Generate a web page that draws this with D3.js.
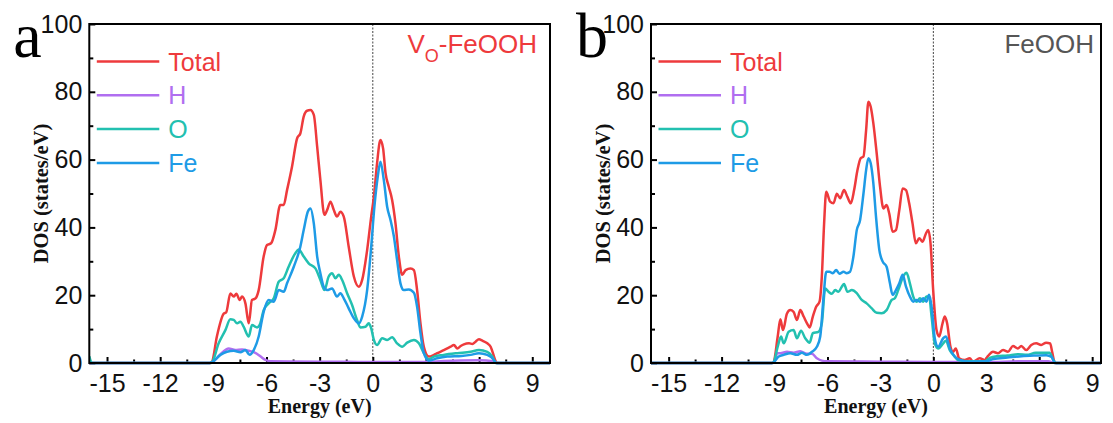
<!DOCTYPE html>
<html>
<head>
<meta charset="utf-8">
<script src="https://cdn.jsdelivr.net/npm/d3@7"></script>
<style>
  html, body { margin: 0; padding: 0; background: #fff; }
  svg { display: block; }
</style>
</head>
<body>
<svg id="chart" width="1113" height="423"></svg>
<script>
// Tick values
const energyTicks = [-15, -12, -9, -6, -3, 0, 3, 6, 9];
const energyMinor = [-13.5, -10.5, -7.5, -4.5, -1.5, 1.5, 4.5, 7.5];
const dosTicks = [0, 20, 40, 60, 80, 100];
const dosMinor = [10, 30, 50, 70, 90];

const seriesNames = ["Total", "H", "O", "Fe"];

// Panel a: V_O-FeOOH, [energy (eV), DOS (states/eV)]
const totalA = [[-16,0],[-9.2,0],[-9.08,0.3],[-8.8,7.8],[-8.42,14.5],[-8.27,15],[-8.04,20.5],[-7.85,19.6],[-7.7,20.4],[-7.51,18.6],[-7.38,19.6],[-7.19,17.6],[-7.0,11.7],[-6.82,18.6],[-6.63,19],[-6.44,21.5],[-6.16,31.4],[-5.97,34.8],[-5.74,35.3],[-5.5,39.2],[-5.22,46.6],[-5.03,46.6],[-4.84,51],[-4.56,57.9],[-4.27,66.3],[-4.09,67.7],[-3.9,72.7],[-3.71,74.4],[-3.52,74.6],[-3.33,73.2],[-3.14,63.8],[-2.96,54],[-2.73,43.7],[-2.58,45.1],[-2.39,47.6],[-2.2,45.1],[-2.02,43.2],[-1.83,44.6],[-1.64,43.2],[-1.36,34.3],[-1.07,25.5],[-0.79,22.5],[-0.6,24.5],[-0.32,33.3],[-0.09,43.2],[0.06,49],[0.24,58.9],[0.43,65.8],[0.58,63.3],[0.72,56],[0.9,52],[1.09,48.1],[1.28,41.2],[1.47,31.4],[1.66,26],[1.85,27.4],[2.13,27.9],[2.32,27.4],[2.5,21.5],[2.69,11.7],[2.88,4.8],[3.16,1.9],[3.45,2.4],[3.64,2.9],[4.01,3.8],[4.39,4.8],[4.58,5.3],[4.77,4.3],[4.96,5],[5.14,5.5],[5.43,5.8],[5.62,5.6],[5.8,6.3],[5.99,7],[6.18,6.6],[6.46,5.8],[6.65,4.8],[6.84,1.9],[6.93,0.6],[7.03,0],[10,0]];
const hA = [[-16,0],[-9.2,0],[-9.08,0.2],[-8.51,3],[-8.14,4.3],[-7.76,3.8],[-7.38,4.0],[-7.0,3.6],[-6.63,3],[-6.35,2],[-6.06,0.9],[-5.78,0.5],[-3,0.4],[0,0.3],[3,0.3],[4,0.6],[6,0.8],[6.8,0.5],[7.0,0],[10,0]];
const oA = [[-16,2],[-15.85,0],[-9.2,0],[-9.08,0.2],[-8.7,5.8],[-8.32,9.7],[-8.04,12.9],[-7.85,12.7],[-7.66,11.7],[-7.47,12.2],[-7.29,10.7],[-7.0,7.8],[-6.82,11.2],[-6.53,10.5],[-6.35,11.7],[-6.16,15.6],[-5.88,17.6],[-5.59,19.1],[-5.31,24],[-5.03,25],[-4.75,28.4],[-4.37,32.4],[-4.18,33.5],[-3.9,31.4],[-3.62,29.4],[-3.24,27.9],[-2.96,24.5],[-2.73,21.5],[-2.49,25.5],[-2.3,26.5],[-2.11,25],[-1.92,26],[-1.73,24.5],[-1.45,20.6],[-1.17,17.1],[-0.89,12.7],[-0.7,10.5],[-0.41,10.7],[-0.23,11.7],[-0.09,10.2],[0.06,6.8],[0.24,5.3],[0.53,7.3],[0.81,6.8],[1.09,7.6],[1.37,5.8],[1.66,4.8],[1.94,6.0],[2.32,6.8],[2.6,5.8],[2.88,2.9],[3.16,1.1],[3.45,1.9],[4.0,2.4],[4.77,2.9],[5.52,3.3],[5.99,3.8],[6.46,3.3],[6.74,1.9],[6.95,0],[10,0]];
const feA = [[-16,0],[-9.2,0],[-9.08,0.2],[-8.6,2.4],[-8.23,3.3],[-7.85,3.6],[-7.47,3.2],[-7.19,3.8],[-6.95,2.4],[-6.72,3.8],[-6.44,7.8],[-6.16,15.1],[-5.88,18.6],[-5.59,18.1],[-5.31,21.5],[-5.03,21],[-4.84,23.5],[-4.46,28.4],[-4.09,34.3],[-3.9,39.2],[-3.67,44.6],[-3.52,45.6],[-3.33,41.2],[-3.14,31.4],[-2.96,26.5],[-2.77,22.5],[-2.58,21.5],[-2.3,22],[-2.02,19.6],[-1.83,20.6],[-1.64,19.1],[-1.36,16.1],[-1.07,13.2],[-0.79,11.7],[-0.6,13.7],[-0.32,21.5],[-0.09,34.3],[0.09,46.1],[0.28,55],[0.43,59.4],[0.62,54],[0.81,46.1],[1.0,42.2],[1.19,37.3],[1.37,30.4],[1.56,23.5],[1.75,21.5],[2.03,21.7],[2.32,20.7],[2.5,16.6],[2.69,8.8],[2.88,2.9],[3.16,0.7],[3.63,1.4],[4.2,1.9],[5.0,2.1],[5.52,2.4],[5.99,2.9],[6.46,2.4],[6.84,0.9],[6.95,0],[10,0]];

// Panel b: FeOOH
const totalB = [[-16,0],[-9.15,0],[-9.05,0.3],[-8.82,7.8],[-8.67,12.9],[-8.52,9.7],[-8.3,14.5],[-8.11,15.6],[-7.92,15.1],[-7.73,12.7],[-7.54,15.6],[-7.35,13.7],[-7.16,11.7],[-7.01,10.5],[-6.83,13.7],[-6.64,16.6],[-6.45,18.1],[-6.32,25.5],[-6.19,41.2],[-6.07,50.5],[-5.85,47.6],[-5.66,47.1],[-5.47,49.9],[-5.28,48.6],[-5.06,51],[-4.87,49],[-4.68,47.1],[-4.49,51],[-4.3,56.9],[-4.12,60.4],[-3.96,60.9],[-3.81,68.7],[-3.68,77.1],[-3.55,75.6],[-3.4,70.7],[-3.21,61.8],[-3.02,52],[-2.83,45.6],[-2.65,46.6],[-2.5,44.1],[-2.31,38.7],[-2.12,39.2],[-1.93,45.1],[-1.74,51.5],[-1.55,51],[-1.37,47.1],[-1.18,41.2],[-0.99,35.3],[-0.8,36.8],[-0.61,35.8],[-0.42,38.2],[-0.29,39.2],[-0.16,35.3],[-0.01,21.5],[0.18,9.7],[0.33,7.8],[0.52,11.7],[0.65,13.7],[0.78,11.7],[0.97,4.8],[1.12,3.3],[1.27,4.3],[1.46,1.4],[1.78,0.9],[2.06,1.4],[2.25,0.4],[2.63,1.4],[2.91,0.9],[3.1,2.1],[3.38,3.3],[3.66,2.9],[3.95,3.8],[4.23,3.3],[4.51,5],[4.79,4.3],[4.98,5],[5.26,3.8],[5.55,5.3],[5.83,5.8],[6.11,5.3],[6.39,6.0],[6.62,5.8],[6.73,3.3],[6.86,0.4],[6.95,0],[9.5,0]];
const hB = [[-16,0],[-9.15,0],[-9.0,0.3],[-8.85,2.9],[-8.67,2.9],[-8.29,3.3],[-7.92,3.0],[-7.54,3.5],[-7.17,2.7],[-6.88,2.7],[-6.6,1.4],[-6.32,0.7],[-6,0.5],[-3,0.4],[0,0.3],[3,0.3],[5,0.5],[6.5,0.5],[6.9,0],[9.5,0]];
const oB = [[-16,0],[-9.15,0],[-9.05,0.3],[-8.82,4.8],[-8.63,7.8],[-8.48,5.8],[-8.2,9.2],[-7.92,9.7],[-7.73,7.3],[-7.5,9.5],[-7.26,7.3],[-7.01,6.0],[-6.83,8.8],[-6.51,9.2],[-6.32,11.7],[-6.13,22],[-5.94,21],[-5.75,20.4],[-5.56,21.5],[-5.38,21],[-5.19,22.5],[-5.06,23.3],[-4.87,21],[-4.62,21.5],[-4.34,20.6],[-4.06,18.6],[-3.78,17.6],[-3.49,16.1],[-3.21,14.8],[-2.93,14.7],[-2.65,15.6],[-2.36,18.6],[-2.18,19.1],[-1.99,21.5],[-1.71,25.5],[-1.52,26.6],[-1.33,23.5],[-1.14,19.6],[-0.95,18.1],[-0.76,19.1],[-0.57,18.1],[-0.39,19.6],[-0.24,19.6],[-0.1,13.7],[0.08,5.8],[0.27,4.3],[0.56,5.8],[0.71,6.6],[0.93,3.8],[1.21,1.9],[1.4,0.9],[2,0.5],[2.9,0.5],[3.2,1.5],[3.6,2.0],[4.2,2.2],[4.8,2.6],[5.3,2.4],[5.8,3.0],[6.3,3.0],[6.58,3.0],[6.8,0.9],[6.95,0],[9.5,0]];
const feB = [[-16,0],[-9.15,0],[-9.05,0.2],[-8.76,1.9],[-8.48,2.4],[-8.11,2.9],[-7.73,2.4],[-7.45,3.0],[-7.16,2.4],[-6.88,3.3],[-6.6,4.8],[-6.41,7.8],[-6.22,19.6],[-6.07,26.9],[-5.89,26.9],[-5.7,26.5],[-5.51,27.4],[-5.32,26.3],[-5.09,26.9],[-4.91,26.5],[-4.72,26.9],[-4.53,31.4],[-4.34,39.2],[-4.15,42.2],[-3.96,50],[-3.81,56.9],[-3.68,60.4],[-3.55,58.9],[-3.4,53],[-3.25,43.2],[-3.06,33.3],[-2.87,29.9],[-2.65,28.4],[-2.46,23.5],[-2.31,20.1],[-2.12,21.5],[-1.93,23.5],[-1.74,26],[-1.55,22.5],[-1.33,19.6],[-1.14,18.1],[-0.95,18.6],[-0.76,18.1],[-0.57,19.1],[-0.39,18.1],[-0.24,20.1],[-0.1,16.6],[0.08,7.3],[0.27,4.8],[0.56,7.3],[0.71,7.8],[0.93,4.3],[1.21,1.9],[1.5,0.9],[2,0.4],[3,0.5],[3.4,1.2],[4.2,1.6],[5,2.0],[5.8,2.2],[6.4,2.3],[6.7,1.8],[6.9,0],[9.5,0]];

const colors = { Total: "#ee3a3c", H: "#b06ef0", O: "#22c0b0", Fe: "#1e9be6" };

const panels = [
  { letter: "a", left: 89.3, right: 550, xDomain: [-16, 10],
    series: { Total: totalA, H: hA, O: oA, Fe: feA },
    label: "VO", labelColor: colors.Total, sub: true },
  { letter: "b", left: 651, right: 1101, xDomain: [-16, 9.5],
    series: { Total: totalB, H: hB, O: oB, Fe: feB },
    label: "FeOOH", labelColor: "#565656", sub: false }
];

const plotTop = 24, plotBottom = 363;
const svg = d3.select("#chart");
const sans = "'Liberation Sans', Arial, sans-serif";
const serif = "'Liberation Serif', 'Times New Roman', serif";

panels.forEach(p => {
  const x = d3.scaleLinear().domain(p.xDomain).range([p.left, p.right]);
  const y = d3.scaleLinear().domain([0, 100]).range([plotBottom, plotTop]);
  const g = svg.append("g");

  const clipId = "clip-" + p.letter;
  g.append("clipPath").attr("id", clipId).append("rect")
    .attr("x", p.left).attr("y", plotTop - 2)
    .attr("width", p.right - p.left).attr("height", plotBottom - plotTop + 4);

  // Fermi level
  g.append("line")
    .attr("x1", x(0)).attr("x2", x(0)).attr("y1", plotTop).attr("y2", plotBottom)
    .attr("stroke", "#444").attr("stroke-width", 1).attr("stroke-dasharray", "2,1.5");

  // Ticks (inward)
  g.append("g").attr("transform", `translate(0,${plotBottom})`)
    .call(d3.axisBottom(x).tickValues(energyTicks).tickSize(-6).tickPadding(11).tickFormat(d => d));
  g.append("g").attr("transform", `translate(0,${plotBottom})`)
    .call(d3.axisBottom(x).tickValues(energyMinor).tickSize(-3.5).tickFormat(""));
  g.append("g").attr("transform", `translate(${p.left},0)`)
    .call(d3.axisLeft(y).tickValues(dosTicks).tickSize(-6).tickPadding(7).tickFormat(d => d));
  g.append("g").attr("transform", `translate(${p.left},0)`)
    .call(d3.axisLeft(y).tickValues(dosMinor).tickSize(-4).tickFormat(""));
  g.selectAll(".domain").remove();
  g.selectAll(".tick line").attr("stroke", "#000").attr("stroke-width", 2);
  g.selectAll(".tick text").attr("font-family", sans).attr("font-size", 25).attr("fill", "#111");

  // DOS curves
  const line = d3.line().x(d => x(d[0])).y(d => y(d[1])).curve(d3.curveMonotoneX);
  const curves = g.append("g").attr("clip-path", `url(#${clipId})`);
  seriesNames.forEach(name => {
    curves.append("path")
      .datum(p.series[name])
      .attr("d", line)
      .attr("fill", "none")
      .attr("stroke", colors[name])
      .attr("stroke-width", 2.5)
      .attr("stroke-linejoin", "round");
  });

  // Frame
  g.append("rect")
    .attr("x", p.left).attr("y", plotTop)
    .attr("width", p.right - p.left).attr("height", plotBottom - plotTop)
    .attr("fill", "none").attr("stroke", "#000").attr("stroke-width", 2);

  // Legend
  seriesNames.forEach((name, i) => {
    const ly = 61.5 + i * 33.8;
    g.append("line")
      .attr("x1", p.left + 7.5).attr("x2", p.left + 70)
      .attr("y1", ly).attr("y2", ly)
      .attr("stroke", colors[name]).attr("stroke-width", 2.5);
    g.append("text")
      .attr("x", p.left + 79).attr("y", ly).attr("dy", "0.36em")
      .attr("font-family", sans).attr("font-size", 25)
      .attr("fill", colors[name]).text(name);
  });

  // Structure label
  const lab = g.append("text")
    .attr("x", p.right - (p.sub ? 13 : 7)).attr("y", 53)
    .attr("text-anchor", "end")
    .attr("font-family", sans).attr("font-size", 26)
    .attr("fill", p.labelColor);
  if (p.sub) {
    lab.append("tspan").text("V");
    lab.append("tspan").attr("font-size", 18).attr("dy", 9).text("O");
    lab.append("tspan").attr("dy", -9).text("-FeOOH");
  } else {
    lab.text(p.label);
  }

  // Panel letter
  g.append("text")
    .attr("x", p.left - (p.letter === "a" ? 76 : 75)).attr("y", 57)
    .attr("font-family", serif).attr("font-size", 64)
    .attr("fill", "#000").text(p.letter);

  // Axis titles
  g.append("text")
    .attr("x", (p.left + p.right) / 2).attr("y", 413)
    .attr("text-anchor", "middle")
    .attr("font-family", serif).attr("font-weight", "bold").attr("font-size", 20)
    .attr("fill", "#111").text("Energy (eV)");
  g.append("text")
    .attr("transform", `translate(${p.left - 48},${(plotTop + plotBottom) / 2}) rotate(-90)`)
    .attr("text-anchor", "middle").attr("dy", "0.35em")
    .attr("font-family", serif).attr("font-weight", "bold").attr("font-size", 20.5)
    .attr("fill", "#111").text("DOS (states/eV)");
});
</script>
</body>
</html>
